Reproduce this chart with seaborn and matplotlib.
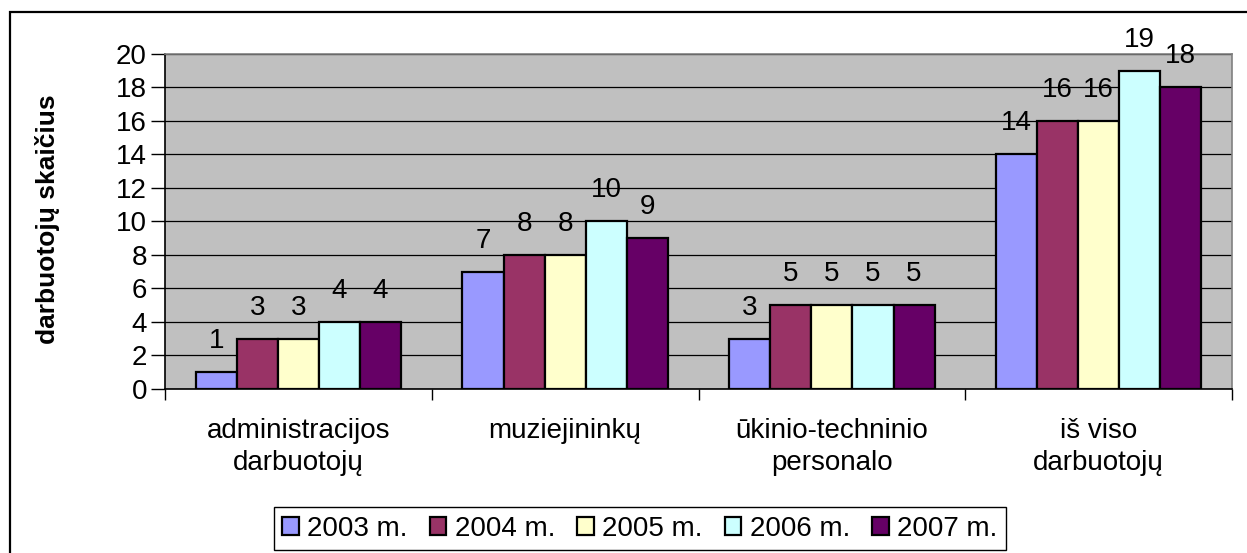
import pandas as pd
import matplotlib
matplotlib.use("Agg")
import matplotlib.pyplot as plt
from matplotlib.patches import Rectangle
from matplotlib.ticker import FixedLocator
import seaborn as sns

# chart data
categories = ["administracijos\ndarbuotojų", "muziejininkų",
              "ūkinio-techninio\npersonalo", "iš viso\ndarbuotojų"]
years = ["2003 m.", "2004 m.", "2005 m.", "2006 m.", "2007 m."]
v2003 = [1, 7, 3, 14]
v2004 = [3, 8, 5, 16]
v2005 = [3, 8, 5, 16]
v2006 = [4, 10, 5, 19]
v2007 = [4, 9, 5, 18]
colors = ["#9999FF", "#993366", "#FFFFCC", "#CCFFFF", "#660066"]

rows = []
for year, vals in zip(years, [v2003, v2004, v2005, v2006, v2007]):
    for cat, v in zip(categories, vals):
        rows.append({"category": cat, "year": year, "value": v})
df = pd.DataFrame(rows)

sns.set_style("white")
plt.rcParams['font.family'] = ['Liberation Sans', 'DejaVu Sans']
plt.rcParams['text.color'] = 'black'
plt.rcParams['xtick.color'] = 'black'
plt.rcParams['ytick.color'] = 'black'
plt.rcParams['axes.labelcolor'] = 'black'
fs = 20

fig = plt.figure(figsize=(12.47, 5.53), dpi=100)
ax = fig.add_axes([0.1323, 0.2966, 0.8557, 0.6058])

sns.barplot(data=df, x="category", y="value", hue="year", palette=colors,
            width=0.77, saturation=1, edgecolor="black", linewidth=1.6,
            ax=ax)

# value labels on top of bars
for cont in ax.containers:
    ax.bar_label(cont, padding=13, fontsize=fs, color="black")

ax.set_facecolor("#C0C0C0")
ax.set_ylim(0, 20)
ax.set_xlim(-0.5, 3.5)
ax.set_yticks(range(0, 21, 2))
ax.yaxis.grid(True, color="black", linewidth=0.9)
ax.set_axisbelow(True)

ax.tick_params(axis="y", labelsize=fs, length=10, width=1, color="black",
               direction="out", left=True, pad=3)
ax.tick_params(axis="x", which="major", labelsize=fs, length=0, pad=21)
ax.xaxis.set_minor_locator(FixedLocator([-0.5, 0.5, 1.5, 2.5, 3.5]))
ax.tick_params(axis="x", which="minor", length=8, width=1, color="black",
               direction="out", bottom=True)
for lbl in ax.get_xticklabels():
    lbl.set_linespacing(1.3)

ax.set_xlabel("")
ax.set_ylabel("darbuotojų skaičius", fontsize=19, fontweight="bold")
ax.yaxis.set_label_coords(-0.098, 0.507)

for s in ["left", "bottom"]:
    ax.spines[s].set_color("black")
    ax.spines[s].set_linewidth(1.2)
for s in ["top", "right"]:
    ax.spines[s].set_color("#808080")
    ax.spines[s].set_linewidth(1.2)

handles, labels = ax.get_legend_handles_labels()
ax.get_legend().remove()
leg = fig.legend(handles, labels, loc="center", bbox_to_anchor=(0.513, 0.044),
                 ncol=5, fontsize=fs, frameon=True, fancybox=False,
                 edgecolor="black", framealpha=1, handlelength=0.6,
                 handleheight=0.6, handletextpad=0.3, columnspacing=0.8,
                 borderpad=0.3)
leg.get_frame().set_linewidth(1.0)

# outer chart frame
fig.patches.append(Rectangle((10 / 1247, -0.1), 1.2, 1.1 - 12 / 553,
                             transform=fig.transFigure, fill=False,
                             edgecolor="black", linewidth=1.6))

fig.savefig("out.png", dpi=100)
